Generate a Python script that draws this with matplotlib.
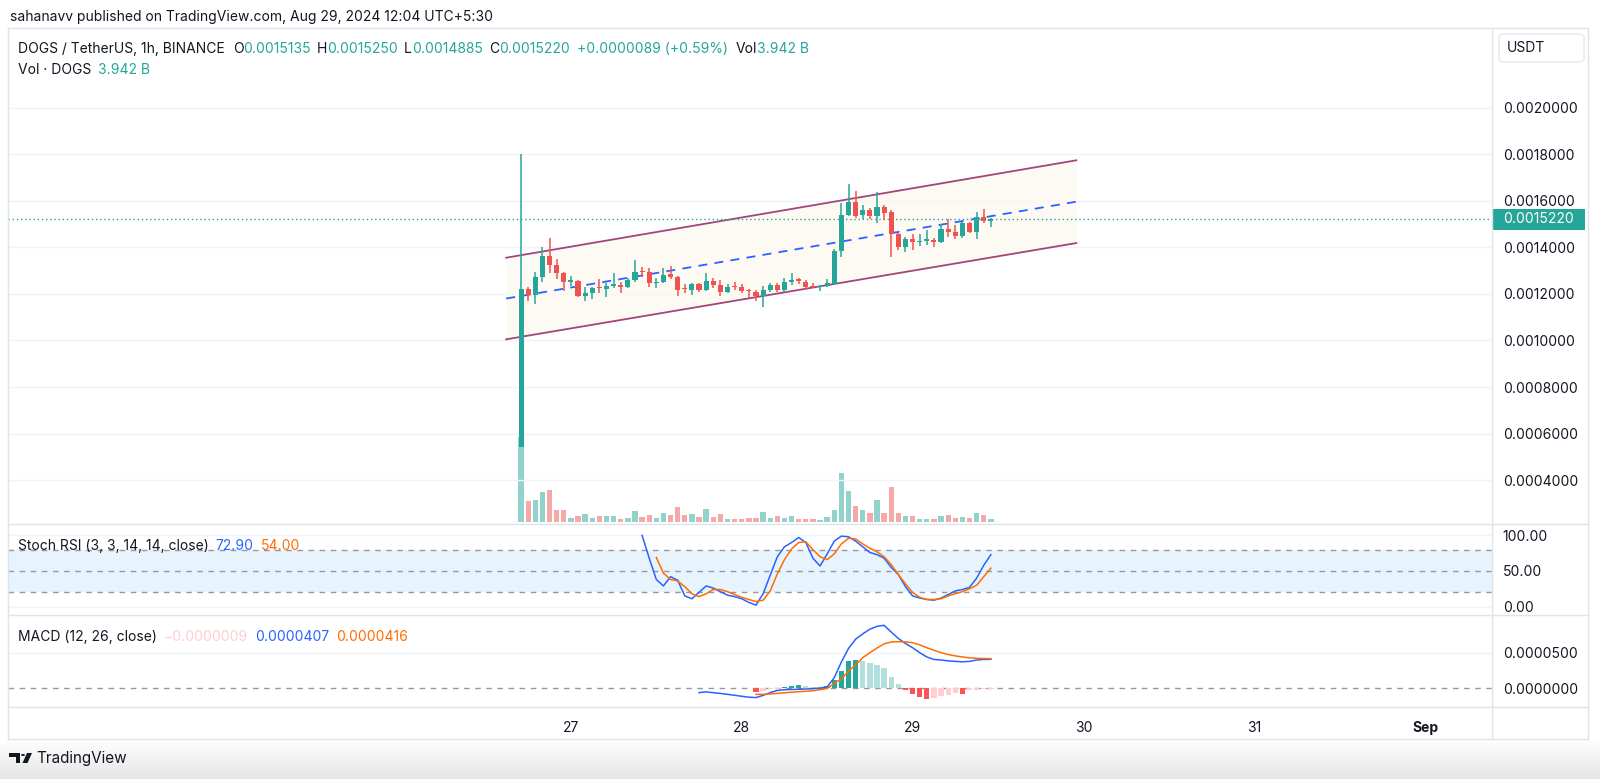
import numpy as np
import pandas as pd
import matplotlib
matplotlib.use("Agg")
import matplotlib.pyplot as plt
import matplotlib.transforms as mtransforms
from matplotlib.lines import Line2D
from matplotlib.patches import Polygon, Circle, FancyBboxPatch, Rectangle
from matplotlib.colors import LinearSegmentedColormap

plt.rcParams['font.family'] = ['Inter', 'DejaVu Sans']

# DOGS / USDT, 1h candles
opens = [0.000543, 0.001220, 0.001196, 0.001272, 0.001363, 0.001325, 0.001289, 0.001252, 0.001257, 0.001191,
         0.001206, 0.001232, 0.001223, 0.001236, 0.001239, 0.001232, 0.001260, 0.001300, 0.001293, 0.001246,
         0.001253, 0.001285, 0.001275, 0.001224, 0.001217, 0.001243, 0.001217, 0.001256, 0.001239, 0.001210,
         0.001236, 0.001229, 0.001217, 0.001210, 0.001191, 0.001217, 0.001239, 0.001217, 0.001253, 0.001263,
         0.001253, 0.001236, 0.001229, 0.001234, 0.001243, 0.001385, 0.001540, 0.001597, 0.001540, 0.001561,
         0.001536, 0.001573, 0.001551, 0.001458, 0.001404, 0.001435, 0.001424, 0.001430, 0.001432, 0.001422,
         0.001480, 0.001465, 0.001450, 0.001504, 0.001468, 0.001530, 0.0015135]
highs = [0.001800, 0.001232, 0.001296, 0.001401, 0.001442, 0.001351, 0.001295, 0.001277, 0.001260, 0.001232,
         0.001232, 0.001263, 0.001249, 0.001289, 0.001253, 0.001267, 0.001346, 0.001318, 0.001313, 0.001267,
         0.001310, 0.001322, 0.001278, 0.001242, 0.001249, 0.001249, 0.001289, 0.001267, 0.001260, 0.001242,
         0.001253, 0.001243, 0.001220, 0.001217, 0.001234, 0.001249, 0.001246, 0.001267, 0.001292, 0.001270,
         0.001260, 0.001249, 0.001239, 0.001263, 0.001392, 0.001593, 0.001673, 0.001644, 0.001581, 0.001569,
         0.001640, 0.001581, 0.001561, 0.001461, 0.001447, 0.001458, 0.001457, 0.001475, 0.001439, 0.001500,
         0.001521, 0.001497, 0.001511, 0.001511, 0.001554, 0.001564, 0.0015250]
lows = [0.000540, 0.001171, 0.001156, 0.001253, 0.001289, 0.001263, 0.001214, 0.001234, 0.001186, 0.001168,
        0.001180, 0.001206, 0.001186, 0.001224, 0.001206, 0.001224, 0.001253, 0.001275, 0.001232, 0.001224,
        0.001246, 0.001263, 0.001191, 0.001203, 0.001196, 0.001210, 0.001214, 0.001227, 0.001191, 0.001203,
        0.001217, 0.001203, 0.001181, 0.001170, 0.001143, 0.001210, 0.001210, 0.001210, 0.001239, 0.001243,
        0.001220, 0.001224, 0.001214, 0.001232, 0.001239, 0.001358, 0.001536, 0.001525, 0.001521, 0.001521,
        0.001507, 0.001518, 0.001358, 0.001389, 0.001379, 0.001389, 0.001407, 0.001411, 0.001404, 0.001418,
        0.001447, 0.001437, 0.001439, 0.001464, 0.001437, 0.001507, 0.0014885]
closes = [0.001220, 0.001196, 0.001272, 0.001363, 0.001325, 0.001289, 0.001253, 0.001260, 0.001191, 0.001206,
          0.001224, 0.001226, 0.001236, 0.001242, 0.001232, 0.001260, 0.001296, 0.001293, 0.001246, 0.001253,
          0.001282, 0.001275, 0.001217, 0.001220, 0.001243, 0.001217, 0.001256, 0.001239, 0.001210, 0.001232,
          0.001229, 0.001214, 0.001213, 0.001191, 0.001217, 0.001239, 0.001217, 0.001253, 0.001260, 0.001254,
          0.001232, 0.001229, 0.001236, 0.001249, 0.001385, 0.001540, 0.001597, 0.001537, 0.001561, 0.001536,
          0.001576, 0.001550, 0.001458, 0.001404, 0.001435, 0.001424, 0.001428, 0.001435, 0.001422, 0.001480,
          0.001468, 0.001450, 0.001504, 0.001468, 0.001530, 0.0015131, 0.0015220]
# volume in billions of DOGS
volumes = [110, 27.3, 29, 39.4, 41.6, 16, 16, 5.6, 8.2, 10, 5.6, 7.4, 7.4, 7.4, 4.3, 5.6, 14.3, 6.5, 8.7, 5.6,
           11.3, 8.7, 19.1, 8.7, 10.4, 6.5, 16.9, 6.5, 10.4, 4.3, 3.5, 4.3, 5.6, 5.2, 13, 5.6, 7.4, 5.6, 7.4, 3.9,
           4.3, 4.3, 3, 6.5, 16, 63.7, 40.7, 21.2, 16, 12.1, 28.6, 12.1, 45.9, 11.3, 7.4, 7.4, 3.9, 3.9, 4.3, 8.2,
           8.7, 5.6, 6.5, 5.6, 12.1, 8.7, 3.942]
first_bar = '2024-08-26 17:00'

# Stoch RSI (3, 3, 14, 14)
stoch_k_from = 17
stoch_k = [100, 68, 38, 29, 42, 37, 15, 11, 20, 29, 26, 21, 16, 14, 11, 6, 2, 18, 44, 70,
           84, 90, 97, 90, 68, 57, 74, 92, 99, 98, 92, 84, 76, 73, 68, 55, 45, 28, 15, 12,
           10, 9, 12, 17, 22, 24, 27, 40, 58, 72.90]
stoch_d_from = 19
stoch_d = [69, 47, 38, 36, 28, 18, 14, 18, 24, 24, 21, 17, 13, 10, 7, 9, 22, 46, 66, 81,
           90, 91, 80, 70, 66, 74, 88, 96, 95, 88, 82, 77, 70, 59, 45, 32, 20, 13, 10, 10,
           11, 15, 18, 21, 25, 30, 42, 54.00]

# MACD (12, 26), values in 1e-7 USDT
macd_from = 25
macd = [-61, -50, -62, -72, -85, -98, -112, -125, -130, -100, -60, -30, -20, -16, -14, -10, -5, 3, 20, 150,
        370, 560, 690, 765, 830, 870, 885, 790, 700, 630, 570, 500, 440, 405, 398, 385, 378, 372, 378, 397,
        405, 407]
signal_from = 33
signal = [-85, -85, -80, -71, -63, -55, -48, -42, -34, -20, -3, 70, 130, 240, 330, 430, 500, 565, 625, 650,
          655, 652, 640, 610, 570, 535, 500, 475, 455, 440, 428, 421, 418, 416]
hist = [-47, -40, -15, -8, 14, 33, 47, 33, 20, 14, 33, 117, 250, 384, 398, 384, 352, 328, 281, 164,
        56, -23, -80, -117, -150, -140, -110, -90, -70, -75, -30, -25, -15, -9]

# parallel channel drawn on the chart: (time, upper, lower)
channel_times = ['2024-08-26 14:54', '2024-08-29 23:00']
channel_upper = [0.001356, 0.001775]
channel_lower = [0.001005, 0.001419]

price_ticks = [0.0004, 0.0006, 0.0008, 0.0010, 0.0012, 0.0014, 0.0016, 0.0018, 0.0020]
day_dates = ['2024-08-27', '2024-08-28', '2024-08-29', '2024-08-30', '2024-08-31', '2024-09-01']
day_labels = ['27', '28', '29', '30', '31', 'Sep']

GREEN = '#26a69a'
RED = '#ef5350'
DARK = '#131722'
BLUE = '#2962ff'
ORANGE = '#ff6d00'
FRAME = '#e0e3eb'
GRID = '#f0f3fa'
CHANNEL = '#a3457c'

W, H = 1600, 779
SCALE_X = 1492   # left edge of the price scale


def fx(px):
    return px / W


def fy(py):
    return 1 - py / H


def hours(ts):
    return (pd.to_datetime(ts) - pd.Timestamp(first_bar)) / pd.Timedelta(hours=1)


o = np.array(opens)
hi = np.array(highs)
lo = np.array(lows)
c = np.array(closes)
x = np.arange(len(o), dtype=float)
up = c >= o
cols = np.where(up, GREEN, RED)

fig = plt.figure(figsize=(16, 7.79), dpi=100)
fig.patch.set_facecolor('white')

# bottom shadow under the card
gax = fig.add_axes([0, 0, 1, fy(740)], zorder=-5)
gax.imshow(np.linspace(0, 1, 60)[:, None], aspect='auto', origin='lower', extent=[0, 1, 0, 1],
           cmap=LinearSegmentedColormap.from_list('sh', ['#e6e6e6', '#ffffff']))
gax.axis('off')


def pane(top, bottom, **kw):
    a = fig.add_axes([fx(8), fy(bottom), fx(SCALE_X) - fx(8), fy(top) - fy(bottom)], **kw)
    for s in a.spines.values():
        s.set_visible(False)
    return a


axv = pane(28, 524)
ax = pane(28, 524, sharex=axv)
ax.patch.set_visible(False)
ax_st = pane(524, 615, sharex=axv)
ax_md = pane(615, 707, sharex=axv)

# volume underneath the candles
axv.bar(x, volumes, width=0.75, color=cols, alpha=0.5, linewidth=0)
axv.set_ylim(-2.6, 642.2)
axv.set_yticks([])
axv.tick_params(labelbottom=False, length=0)

# price pane
for p in price_ticks:
    ax.axhline(p, color=GRID, lw=1, zorder=0)
tc = hours(channel_times)
mid = [(a + b) / 2 for a, b in zip(channel_upper, channel_lower)]
ax.fill_between(tc, channel_lower, channel_upper, color='#fdf9ee', alpha=0.7, lw=0, zorder=1)
ax.plot(tc, channel_upper, color=CHANNEL, lw=1.3, zorder=2)
ax.plot(tc, channel_lower, color=CHANNEL, lw=1.3, zorder=2)
ax.plot(tc, mid, color=BLUE, lw=1.3, ls=(0, (5, 4)), zorder=2)

ax.vlines(x, lo, hi, colors=cols, lw=1.1, zorder=3)
body = np.maximum(np.abs(c - o), 4.5e-6)
ax.bar(x, body, bottom=np.minimum(o, c), width=0.72, color=cols, lw=0, zorder=4)
ax.axhline(c[-1], color=GREEN, lw=1, ls=(0, (1, 2)), zorder=2)

ax.set_ylim(0.0002108, 0.002344)
ax.yaxis.tick_right()
ax.set_yticks(price_ticks)
ax.set_yticklabels([f'{p:.7f}' for p in price_ticks])
ax.tick_params(axis='y', length=0, pad=7.7, labelsize=10, labelcolor=DARK)
ax.tick_params(axis='x', labelbottom=False, length=0)
blend = mtransforms.blended_transform_factory(ax.transAxes, ax.transData)
ax.add_patch(Rectangle((1.0003, c[-1] - 4.5e-5), 0.0622, 9e-5, transform=blend, fc=GREEN, ec='none',
                       zorder=9, clip_on=False))
ax.text(1.0074, c[-1], f'{c[-1]:.7f}', transform=blend, color='white', fontsize=10, va='center',
        ha='left', zorder=10, clip_on=False)

# Stoch RSI pane
xk = stoch_k_from + np.arange(len(stoch_k))
xd = stoch_d_from + np.arange(len(stoch_d))
ax_st.axhspan(20, 80, color='#2196f3', alpha=0.1, lw=0, zorder=0)
for lvl in (0, 100):
    ax_st.axhline(lvl, color=GRID, lw=1, zorder=0)
for lvl in (20, 50, 80):
    ax_st.axhline(lvl, color='#9598a1', lw=1, ls=(0, (4, 4)), zorder=1)
ax_st.plot(xk, stoch_k, color=BLUE, lw=1.1, zorder=3)
ax_st.plot(xd, stoch_d, color=ORANGE, lw=1.1, zorder=3)
ax_st.set_ylim(-11.8, 116)
ax_st.yaxis.tick_right()
ax_st.set_yticks([0, 50, 100])
ax_st.set_yticklabels(['0.00', '50.00', '100.00'])
ax_st.tick_params(axis='y', length=0, pad=7.7, labelsize=10, labelcolor=DARK)
ax_st.tick_params(axis='x', labelbottom=False, length=0)

# MACD pane
scale = 1e-7
xm = macd_from + np.arange(len(macd))
xs = signal_from + np.arange(len(signal))
hv = np.array(hist) * scale
prev = np.concatenate([[0], hv[:-1]])
hcols = np.where(hv >= 0, np.where(hv >= prev, GREEN, '#b2dfdb'),
                 np.where(hv <= prev, '#ff5252', '#ffcdd2'))
ax_md.axhline(5e-5, color=GRID, lw=1, zorder=0)
ax_md.axhline(0, color='#9598a1', lw=1, ls=(0, (4, 4)), zorder=1)
ax_md.bar(xs, hv, width=0.75, color=hcols, lw=0, zorder=2)
ax_md.plot(xm, np.array(macd) * scale, color=BLUE, lw=1.1, zorder=3)
ax_md.plot(xs, np.array(signal) * scale, color=ORANGE, lw=1.1, zorder=3)
ax_md.set_ylim(-2.626e-5, 1.0295e-4)
ax_md.yaxis.tick_right()
ax_md.set_yticks([0, 5e-5])
ax_md.set_yticklabels(['0.0000000', '0.0000500'])
ax_md.tick_params(axis='y', length=0, pad=7.7, labelsize=10, labelcolor=DARK)

day_x = hours(day_dates)
ax_md.set_xticks(day_x)
ax_md.set_xticklabels(day_labels)
ax_md.tick_params(axis='x', length=0, pad=10, labelsize=10, labelcolor=DARK)
ax_md.get_xticklabels()[-1].set_fontweight('bold')
ax_md.set_xlim(-72.08, 136.4)

# card frame and pane separators
for y0 in (28, 524, 615, 707, 739):
    fig.add_artist(Line2D([fx(8), fx(1588)], [fy(y0), fy(y0)], transform=fig.transFigure, color=FRAME, lw=1))
for x0 in (8, SCALE_X, 1588):
    fig.add_artist(Line2D([fx(x0), fx(x0)], [fy(28), fy(739)], transform=fig.transFigure, color=FRAME, lw=1))
fig.add_artist(FancyBboxPatch((fx(1499), fy(62)), fx(1584) - fx(1499), fy(34) - fy(62),
                              boxstyle='round,pad=0,rounding_size=0.004', transform=fig.transFigure,
                              fc='white', ec='#e6e8ee', lw=1))
fig.text(fx(1507), fy(48), 'USDT', fontsize=10, color=DARK, va='center')

# legends
renderer = fig.canvas.get_renderer()


def write_row(x0, y0, parts, size=10):
    for s, col, gap in parts:
        t = fig.text(fx(x0), fy(y0), s, color=col, fontsize=size, va='center', ha='left')
        bb = t.get_window_extent(renderer=renderer)
        x0 = bb.x1 + gap


fig.text(fx(10), fy(16.5), 'sahanavv published on TradingView.com, Aug 29, 2024 12:04 UTC+5:30',
         fontsize=10, color=DARK, va='center')
chg = c[-1] - c[-2]
write_row(18, 49, [
    ('DOGS / TetherUS, 1h, BINANCE', DARK, 8),
    ('O', DARK, 0), (f'{o[-1]:.7f}', GREEN, 6),
    ('H', DARK, 0), (f'{hi[-1]:.7f}', GREEN, 6),
    ('L', DARK, 0), (f'{lo[-1]:.7f}', GREEN, 6),
    ('C', DARK, 0), (f'{c[-1]:.7f}', GREEN, 7),
    (f'+{chg:.7f} (+{chg / c[-2] * 100:.2f}%)', GREEN, 8),
    ('Vol', DARK, 0), (f'{volumes[-1]:.3f} B', GREEN, 0),
])
write_row(18, 69.5, [('Vol · DOGS', DARK, 7), (f'{volumes[-1]:.3f} B', GREEN, 0)])
write_row(18, 546, [('Stoch RSI (3, 3, 14, 14, close)', DARK, 7),
                    (f'{stoch_k[-1]:.2f}', BLUE, 7), (f'{stoch_d[-1]:.2f}', ORANGE, 0)])
write_row(18, 637, [('MACD (12, 26, close)', DARK, 7),
                    (f'−{abs(hv[-1]):.7f}', hcols[-1], 7),
                    (f'{macd[-1] * scale:.7f}', BLUE, 7), (f'{signal[-1] * scale:.7f}', ORANGE, 0)])

# TradingView mark
tf = fig.transFigure
fig.add_artist(Polygon([[fx(9), fy(753)], [fx(20), fy(753)], [fx(20), fy(763)], [fx(15.5), fy(763)],
                        [fx(15.5), fy(757)], [fx(9), fy(757)]], closed=True, transform=tf, fc=DARK, ec='none'))
fig.add_artist(Circle((fx(23), fy(755)), 2 / W, transform=tf, fc=DARK, ec='none'))
fig.add_artist(Polygon([[fx(27), fy(753)], [fx(32), fy(753)], [fx(27.5), fy(763)], [fx(22.5), fy(763)]],
                       closed=True, transform=tf, fc=DARK, ec='none'))
fig.text(fx(36), fy(758), 'TradingView', fontsize=11, color=DARK, va='center')

fig.savefig('out.png', dpi=100)
